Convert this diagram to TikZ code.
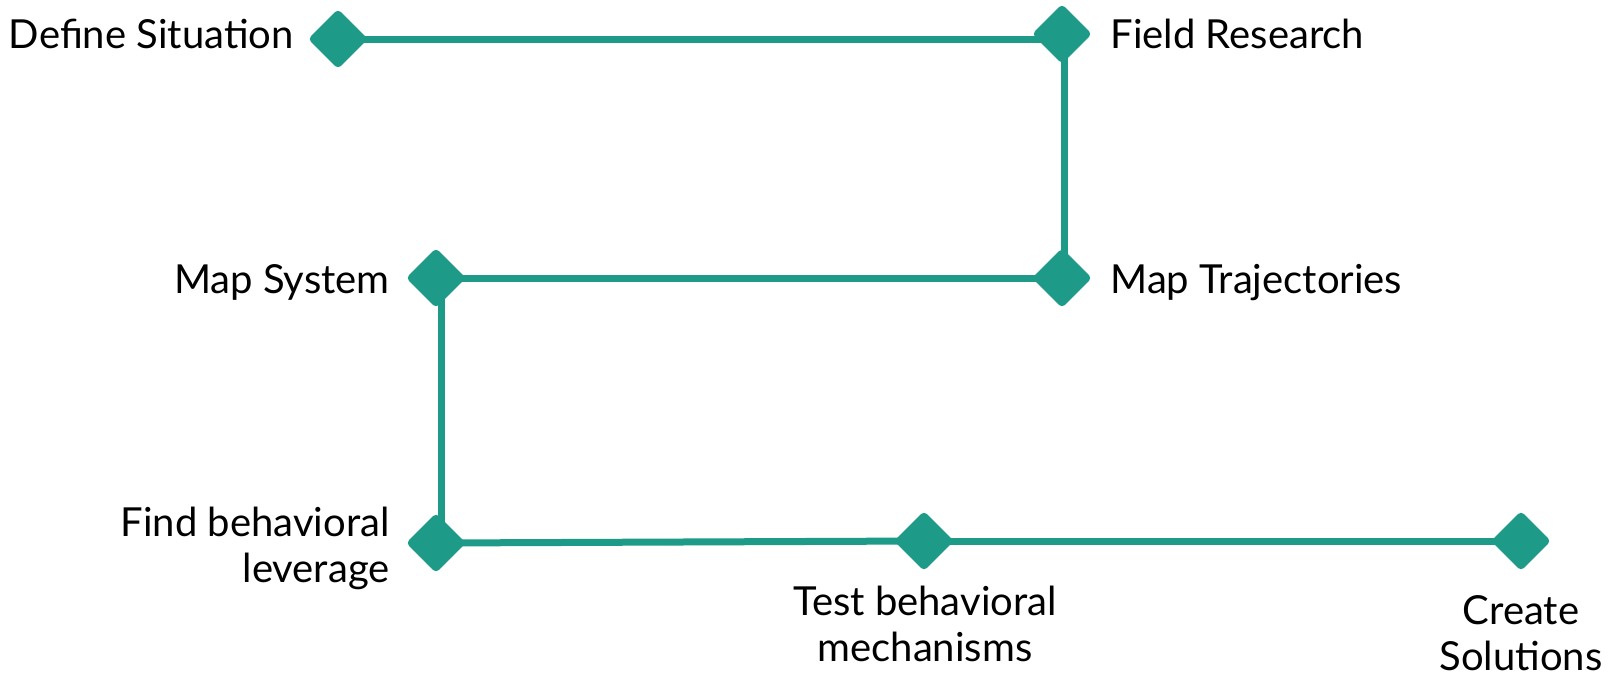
\documentclass[tikz,border=0pt]{standalone}
\usepackage{fontspec}
\setmainfont{Lato}
\usetikzlibrary{shapes.geometric}
\definecolor{stepteal}{RGB}{29,154,136}
\tikzset{
  stage/.style={diamond, fill=stepteal, inner sep=0pt, minimum size=30pt, rounded corners=2pt},
  lbl/.style={inner sep=0pt, font=\fontsize{20pt}{23pt}\selectfont},
  link/.style={draw, line width=3.5pt, stepteal, line cap=butt}
}
\begin{document}
\begin{tikzpicture}[x=0.5pt,y=-0.5pt]
\useasboundingbox (0,0) rectangle (1616,676);
\node[stage] (1) at (338,39) {};
\node[stage] (2) at (1062,34) {};
\node[stage] (3) at (1062,278) {};
\node[stage] (4) at (436,278) {};
\node[stage] (5) at (436,543) {};
\node[stage] (6) at (924,541) {};
\node[stage] (7) at (1521,541) {};

\node[lbl, anchor=base east] (l1) at (294,48) {Define Situation};
\node[lbl, anchor=base west] (l2) at (1110,48) {Field Research};
\node[lbl, anchor=base west] (l3) at (1110,293) {Map Trajectories};
\node[lbl, anchor=base east] (l4) at (390,293) {Map System};
\node[lbl, anchor=east, align=right] (l5) at (390,548) {Find behavioral\\leverage};
\node[lbl, anchor=north, align=center] (l6) at (925,586) {Test behavioral\\mechanisms};
\node[lbl, anchor=north, align=center] (l7) at (1521,595) {Create\\Solutions};

\path[link] (1.center) -- (1.center -| 2.center);
\path[link] ([xshift=1pt]2.center) -- ([xshift=1pt]3.center);
\path[link] (3.center) -- (4.center);
\path[link] ([xshift=2.5pt]4.center) -- ([xshift=2.5pt]4.center |- 5.center);
\path[link] (5.center) -- (6.center);
\path[link] (6.center) -- (7.center);
\end{tikzpicture}
\end{document}
